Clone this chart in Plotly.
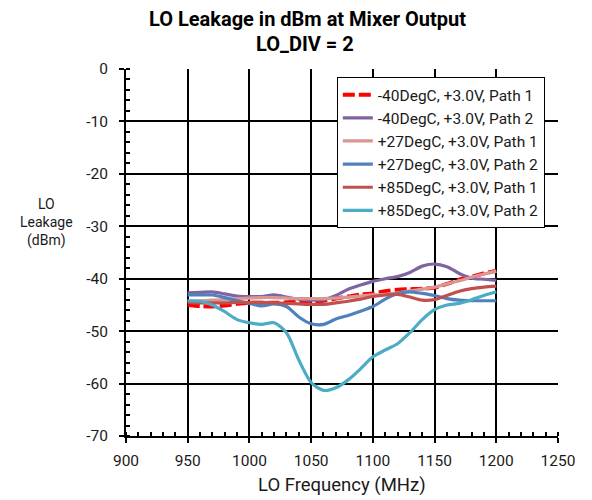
import plotly.graph_objects as go

freq = [950, 960, 970, 980, 990, 1000, 1010, 1020, 1030, 1040, 1050, 1060, 1070,
        1080, 1090, 1100, 1110, 1120, 1130, 1140, 1150, 1160, 1170, 1180, 1190, 1200]

m40_p1 = [-45.0, -45.2, -45.3, -45.1, -44.8, -44.6, -44.6, -44.6, -44.5, -44.4, -44.4, -44.2, -43.8,
          -43.4, -43.0, -42.8, -42.4, -42.1, -42.0, -41.9, -41.7, -41.0, -40.2, -39.6, -39.0, -38.5]
m40_p2 = [-42.7, -42.6, -42.5, -42.9, -43.3, -43.4, -43.4, -43.1, -43.5, -43.9, -44.1, -44.0, -43.2,
          -42.0, -41.2, -40.5, -40.0, -39.6, -38.8, -37.6, -37.2, -37.7, -39.0, -39.9, -40.1, -40.3]
p27_p1 = [-44.2, -44.2, -44.1, -44.0, -43.8, -43.7, -43.6, -43.6, -43.7, -43.8, -43.8, -43.8, -43.7,
          -43.5, -43.3, -43.1, -43.0, -42.7, -42.3, -42.0, -41.6, -41.0, -40.4, -39.7, -39.1, -38.6]
p27_p2 = [-43.1, -43.1, -43.1, -43.6, -44.2, -44.7, -45.2, -44.8, -45.3, -47.3, -48.6, -48.7, -47.7,
          -47.0, -46.2, -45.3, -43.9, -42.8, -42.5, -42.8, -43.2, -43.8, -44.1, -44.2, -44.2, -44.2]
p85_p1 = [-44.5, -44.6, -44.6, -44.6, -44.5, -44.5, -44.5, -44.6, -44.7, -44.8, -44.9, -44.9, -44.6,
          -44.3, -43.9, -43.4, -43.1, -43.0, -43.5, -44.1, -44.0, -43.2, -42.4, -41.9, -41.6, -41.4]
p85_p2 = [-44.2, -44.3, -45.0, -46.3, -47.8, -48.4, -48.7, -48.4, -50.3, -55.5, -59.8, -61.3, -60.8,
          -59.3, -57.2, -54.9, -53.6, -52.4, -50.3, -47.8, -45.9, -45.0, -44.7, -44.0, -43.2, -42.5]

series_names = ["-40DegC, +3.0V, Path 1", "-40DegC, +3.0V, Path 2",
                "+27DegC, +3.0V, Path 1", "+27DegC, +3.0V, Path 2",
                "+85DegC, +3.0V, Path 1", "+85DegC, +3.0V, Path 2"]
series_vals = [m40_p1, m40_p2, p27_p1, p27_p2, p85_p1, p85_p2]
colors = ["#FF0000", "#8064A2", "#D99694", "#4F81BD", "#C0504D", "#4BACC6"]
dashes = ["12px,4px", "solid", "solid", "solid", "solid", "solid"]
widths = [4, 3.2, 3.2, 3.2, 3.2, 3.2]

x_ticks = [900, 950, 1000, 1050, 1100, 1150, 1200, 1250]
x_grid = [950, 1000, 1050, 1100, 1150, 1200]
y_ticks = [0, -10, -20, -30, -40, -50, -60, -70]
y_ticktext = ["0", "-10", "-20", "-30", "-40", "-50", "-60", "-70"]

FONT = "Roboto"
TXT = "#1a1a1a"
fig = go.Figure()

# invisible helper trace for the grid axis
fig.add_trace(go.Scatter(x=freq, y=p85_p2, xaxis="x2", mode="lines",
                         line=dict(width=0), showlegend=False, hoverinfo="skip"))

for name, vals, c, d, w in zip(series_names, series_vals, colors, dashes, widths):
    fig.add_trace(go.Scatter(x=freq, y=vals, name=name, mode="lines",
                             line=dict(color=c, width=w, dash=d, shape="spline", smoothing=0.8)))

fig.update_layout(
    width=584, height=492,
    margin=dict(l=118, r=34, t=61, b=64),
    paper_bgcolor="white", plot_bgcolor="white",
    font=dict(family=FONT, color=TXT),
    showlegend=True,
    legend=dict(x=0.488, y=0.978, xanchor="left", yanchor="top",
                bgcolor="white", bordercolor="black", borderwidth=1,
                font=dict(size=15.5, family=FONT, color=TXT),
                itemwidth=30, tracegroupgap=0),
    xaxis=dict(range=[900, 1250], tickvals=x_ticks, showgrid=False, zeroline=False,
               showline=True, linecolor="black", linewidth=2,
               ticks="outside", ticklen=5, tickwidth=2, tickcolor="black",
               ticklabelstandoff=4,
               tickfont=dict(size=15.5, family=FONT, color=TXT),
               minor=dict(dtick=10, ticks="inside", ticklen=4, tickwidth=1.5,
                          tickcolor="black", showgrid=False)),
    xaxis2=dict(range=[900, 1250], overlaying="x", matches="x", anchor="y",
                tickvals=x_grid, showticklabels=False, ticks="",
                showgrid=True, gridcolor="black", gridwidth=1.5,
                zeroline=False, showline=False),
    yaxis=dict(range=[-70, 0], tickvals=y_ticks, ticktext=y_ticktext,
               showgrid=True, gridcolor="black", gridwidth=1.5, zeroline=False,
               showline=True, linecolor="black", linewidth=2,
               ticks="outside", ticklen=5, tickwidth=2, tickcolor="black",
               ticklabelstandoff=8,
               tickfont=dict(size=15.5, family=FONT, color=TXT),
               minor=dict(dtick=2, ticks="inside", ticklen=4, tickwidth=1.5,
                          tickcolor="black", showgrid=False)),
    annotations=[
        dict(text="<b>LO Leakage in dBm at Mixer Output</b>", xref="paper", yref="paper",
             x=0.421, y=1.136, xanchor="center", yanchor="middle", showarrow=False,
             font=dict(size=20, family=FONT, color="black")),
        dict(text="<b>LO_DIV = 2</b>", xref="paper", yref="paper",
             x=0.414, y=1.069, xanchor="center", yanchor="middle", showarrow=False,
             font=dict(size=20, family=FONT, color="black")),
        dict(text="LO<br>Leakage<br>(dBm)", xref="paper", yref="paper",
             x=-0.183, y=0.583, xanchor="center", yanchor="middle", showarrow=False,
             align="center", font=dict(size=14, family=FONT, color=TXT)),
        dict(text="LO Frequency (MHz)", xref="paper", yref="paper",
             x=0.5, y=-0.1335, xanchor="center", yanchor="middle", showarrow=False,
             font=dict(size=18.5, family=FONT, color=TXT)),
    ],
)

fig.write_html("out.html")
